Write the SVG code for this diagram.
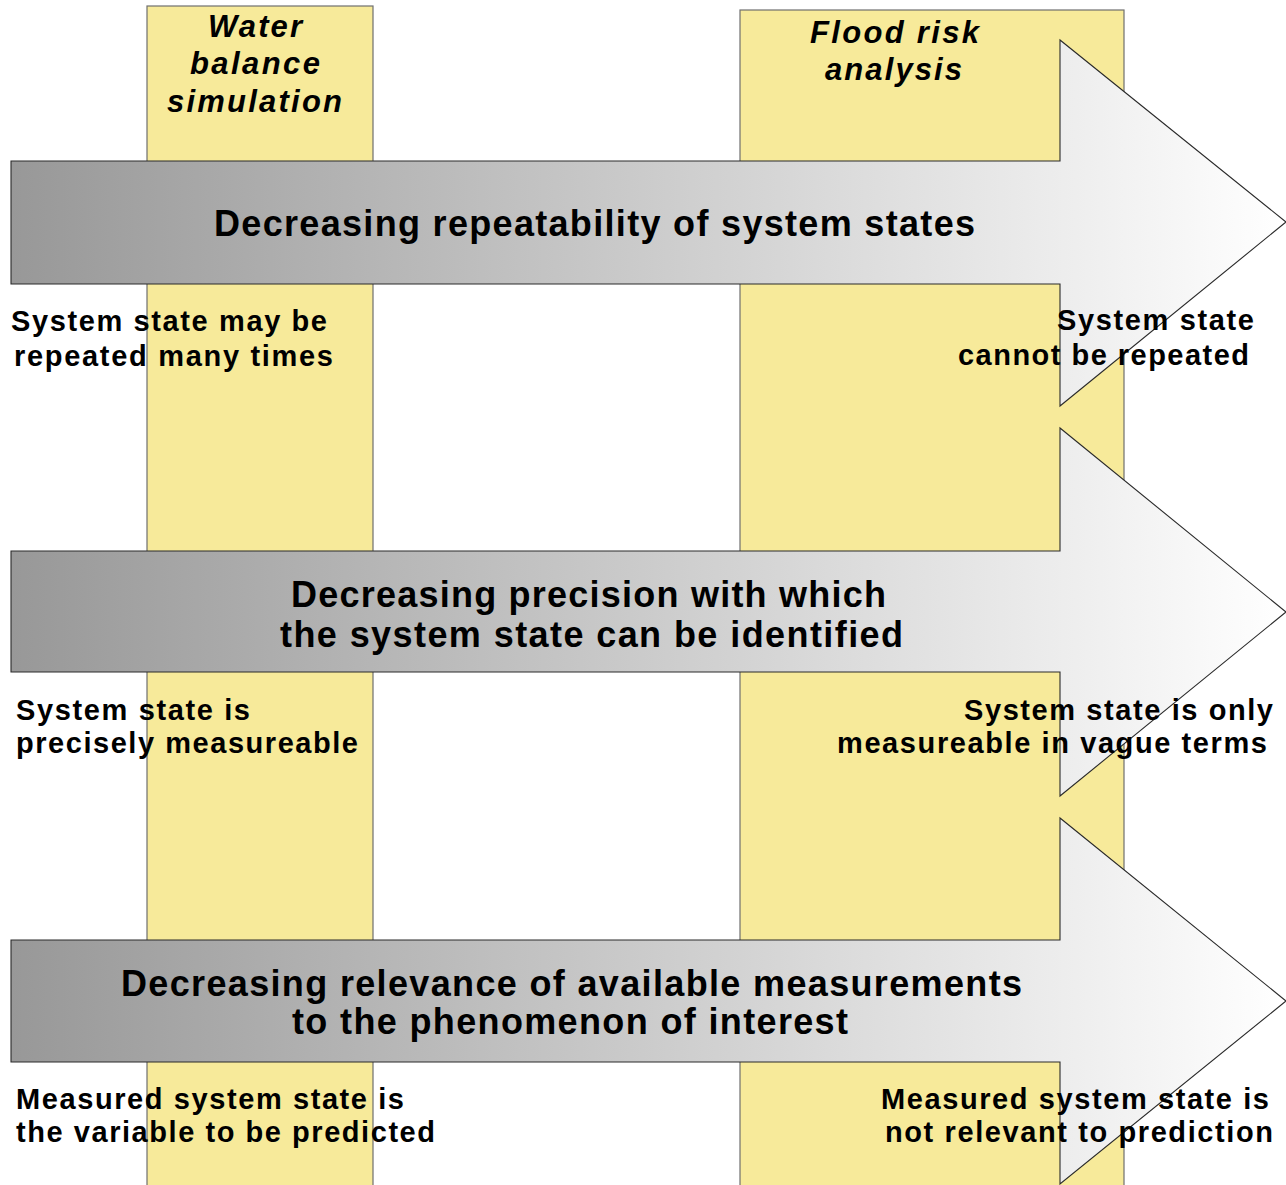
<svg xmlns="http://www.w3.org/2000/svg" width="1286" height="1185" viewBox="0 0 1286 1185">
  <defs>
    <linearGradient id="g" gradientUnits="userSpaceOnUse" x1="11" y1="0" x2="1286" y2="0">
      <stop offset="0" stop-color="#989898"/>
      <stop offset="1" stop-color="#ffffff"/>
    </linearGradient>
    <style>
      .col { fill: #F7EA9A; stroke: #6f6f6f; stroke-width: 1.2; }
      .arrow { fill: url(#g); stroke: #2a2a2a; stroke-width: 1.1; }
      text { font-family: "Liberation Sans", Arial, sans-serif; font-weight: bold; fill: #000; }
      .ct { font-size: 31px; font-style: italic; }
      .tt { font-size: 36px; }
      .lb { font-size: 29px; }
    </style>
  </defs>
  <rect width="1286" height="1185" fill="#ffffff"/>

  <g id="col-water">
    <rect class="col" x="147" y="6" width="226" height="1190"/>
  </g>
  <g id="col-flood">
    <rect class="col" x="740" y="10" width="384" height="1190"/>
  </g>

  <g id="connectors">
    <polygon id="arrow1" class="arrow" points="11,161 1060,161 1060,40 1286,222 1060,406 1060,284 11,284"/>
    <polygon id="arrow2" class="arrow" points="11,551 1060,551 1060,428 1286,612 1060,796 1060,672 11,672"/>
    <polygon id="arrow3" class="arrow" points="11,940 1060,940 1060,818 1286,1001 1060,1184 1060,1062 11,1062"/>
  </g>

  <g id="col-water-label">
    <text class="ct" x="208" y="37" textLength="94" lengthAdjust="spacing">Water</text>
    <text class="ct" x="190" y="74" textLength="130" lengthAdjust="spacing">balance</text>
    <text class="ct" x="167" y="112" textLength="175" lengthAdjust="spacing">simulation</text>
  </g>
  <g id="col-flood-label">
    <text class="ct" x="810" y="43" textLength="169" lengthAdjust="spacing">Flood risk</text>
    <text class="ct" x="825" y="80" textLength="137" lengthAdjust="spacing">analysis</text>
  </g>

  <g id="arrow1-label">
    <text class="tt" x="214" y="236" textLength="761" lengthAdjust="spacing">Decreasing repeatability of system states</text>
  </g>
  <g id="arrow2-label">
    <text class="tt" x="291" y="607" textLength="595" lengthAdjust="spacing">Decreasing precision with which</text>
    <text class="tt" x="280" y="647" textLength="623" lengthAdjust="spacing">the system state can be identified</text>
  </g>
  <g id="arrow3-label">
    <text class="tt" x="121" y="996" textLength="901" lengthAdjust="spacing">Decreasing relevance of available measurements</text>
    <text class="tt" x="292" y="1034" textLength="556" lengthAdjust="spacing">to the phenomenon of interest</text>
  </g>

  <g id="left-labels">
    <text class="lb" x="11" y="331" textLength="316" lengthAdjust="spacing">System state may be</text>
    <text class="lb" x="14" y="366" textLength="319" lengthAdjust="spacing">repeated many times</text>
    <text class="lb" x="16" y="720" textLength="234" lengthAdjust="spacing">System state is</text>
    <text class="lb" x="16" y="753" textLength="342" lengthAdjust="spacing">precisely measureable</text>
    <text class="lb" x="16" y="1109" textLength="388" lengthAdjust="spacing">Measured system state is</text>
    <text class="lb" x="16" y="1142" textLength="419" lengthAdjust="spacing">the variable to be predicted</text>
  </g>
  <g id="right-labels">
    <text class="lb" x="1057" y="330" textLength="197" lengthAdjust="spacing">System state</text>
    <text class="lb" x="958" y="365" textLength="291" lengthAdjust="spacing">cannot be repeated</text>
    <text class="lb" x="964" y="720" textLength="309" lengthAdjust="spacing">System state is only</text>
    <text class="lb" x="837" y="753" textLength="430" lengthAdjust="spacing">measureable in vague terms</text>
    <text class="lb" x="881" y="1109" textLength="388" lengthAdjust="spacing">Measured system state is</text>
    <text class="lb" x="885" y="1142" textLength="388" lengthAdjust="spacing">not relevant to prediction</text>
  </g>
</svg>
